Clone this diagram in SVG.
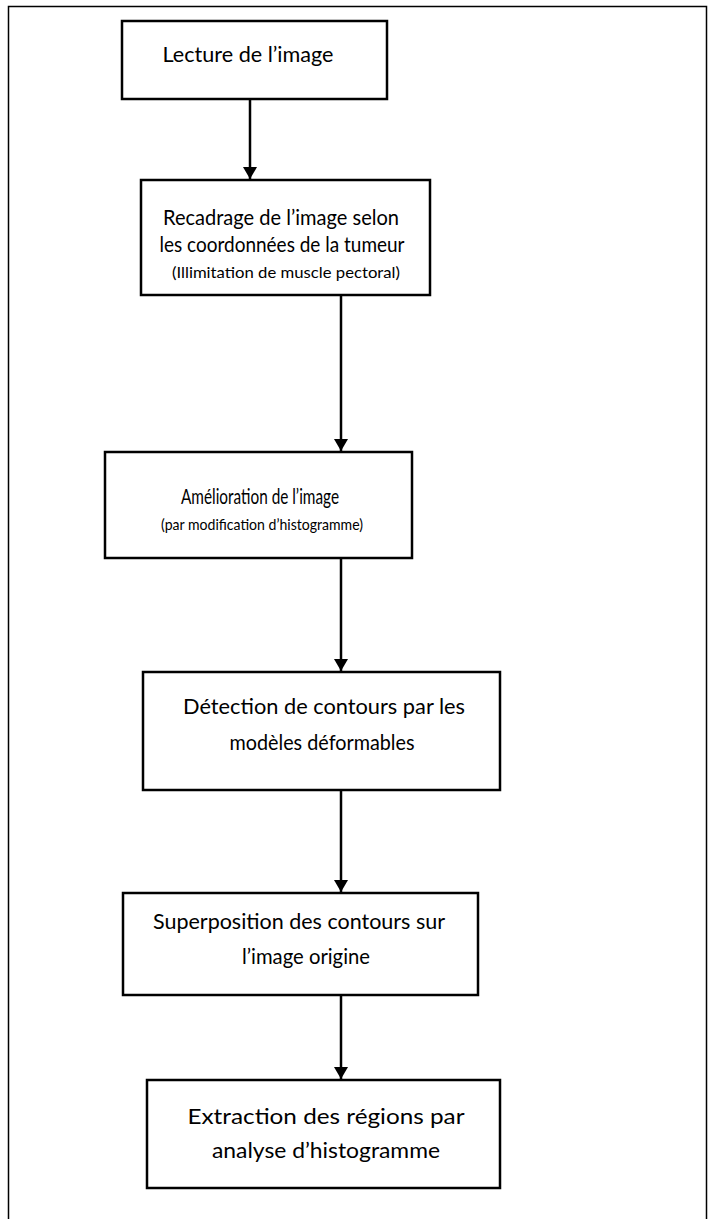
<svg xmlns="http://www.w3.org/2000/svg" width="711" height="1219" viewBox="0 0 711 1219">
  <style>
    .frame { fill: none; stroke: #000; stroke-width: 1.5; }
    .box { fill: #fff; stroke: #000; stroke-width: 2.5; }
    .t { font-family: Lato, "Open Sans", "Liberation Sans", sans-serif; font-size: 21px; fill: #000; text-anchor: middle; }
    .s { font-size: 16px; }
    .edge { stroke: #000; stroke-width: 2.5; fill: none; marker-end: url(#arrow); }
  </style>
  <defs>
    <marker id="arrow" viewBox="0 0 12 14" refX="12" refY="7" markerWidth="12" markerHeight="14" markerUnits="userSpaceOnUse" orient="auto">
      <path d="M0,0 L12,7 L0,14 Z" fill="#000"/>
    </marker>
  </defs>

  <rect width="711" height="1219" fill="#fff"/>
  <!-- page frame, open at the bottom -->
  <path class="frame" d="M8.5,1230 V6.5 H706.5 V1230"/>

  <g id="connectors">
    <line class="edge" x1="250" y1="99" x2="250" y2="179"/>
    <line class="edge" x1="341" y1="295" x2="341" y2="451"/>
    <line class="edge" x1="341" y1="558" x2="341" y2="671"/>
    <line class="edge" x1="341" y1="790" x2="341" y2="892"/>
    <line class="edge" x1="341" y1="995" x2="341" y2="1079"/>
  </g>

  <g id="n1">
    <rect class="box" x="122" y="21" width="265" height="78"/>
    <text class="t" x="248" y="62" textLength="171" lengthAdjust="spacingAndGlyphs">Lecture de l’image</text>
  </g>

  <g id="n2">
    <rect class="box" x="141" y="180" width="289" height="115"/>
    <text class="t" x="281" y="225" textLength="236" lengthAdjust="spacingAndGlyphs">Recadrage de l’image selon</text>
    <text class="t" x="282" y="252" textLength="245" lengthAdjust="spacingAndGlyphs">les coordonnées de la tumeur</text>
    <text class="t s" x="286" y="278" textLength="228" lengthAdjust="spacingAndGlyphs">(Illimitation de muscle pectoral)</text>
  </g>

  <g id="n3">
    <rect class="box" x="105" y="452" width="307" height="106"/>
    <text class="t" x="260" y="504" textLength="158" lengthAdjust="spacingAndGlyphs">Amélioration de l’image</text>
    <text class="t s" x="262" y="530" textLength="202" lengthAdjust="spacingAndGlyphs">(par modification d’histogramme)</text>
  </g>

  <g id="n4">
    <rect class="box" x="143" y="672" width="357" height="118"/>
    <text class="t" x="324" y="714" textLength="282" lengthAdjust="spacingAndGlyphs">Détection de contours par les</text>
    <text class="t" x="322" y="750" textLength="185" lengthAdjust="spacingAndGlyphs">modèles déformables</text>
  </g>

  <g id="n5">
    <rect class="box" x="123" y="893" width="355" height="102"/>
    <text class="t" x="299" y="929" textLength="292" lengthAdjust="spacingAndGlyphs">Superposition des contours sur</text>
    <text class="t" x="306" y="964" textLength="128" lengthAdjust="spacingAndGlyphs">l’image origine</text>
  </g>

  <g id="n6">
    <rect class="box" x="147" y="1080" width="353" height="108"/>
    <text class="t" x="326" y="1124" textLength="277" lengthAdjust="spacingAndGlyphs">Extraction des régions par</text>
    <text class="t" x="326" y="1158" textLength="228" lengthAdjust="spacingAndGlyphs">analyse d’histogramme</text>
  </g>
</svg>
